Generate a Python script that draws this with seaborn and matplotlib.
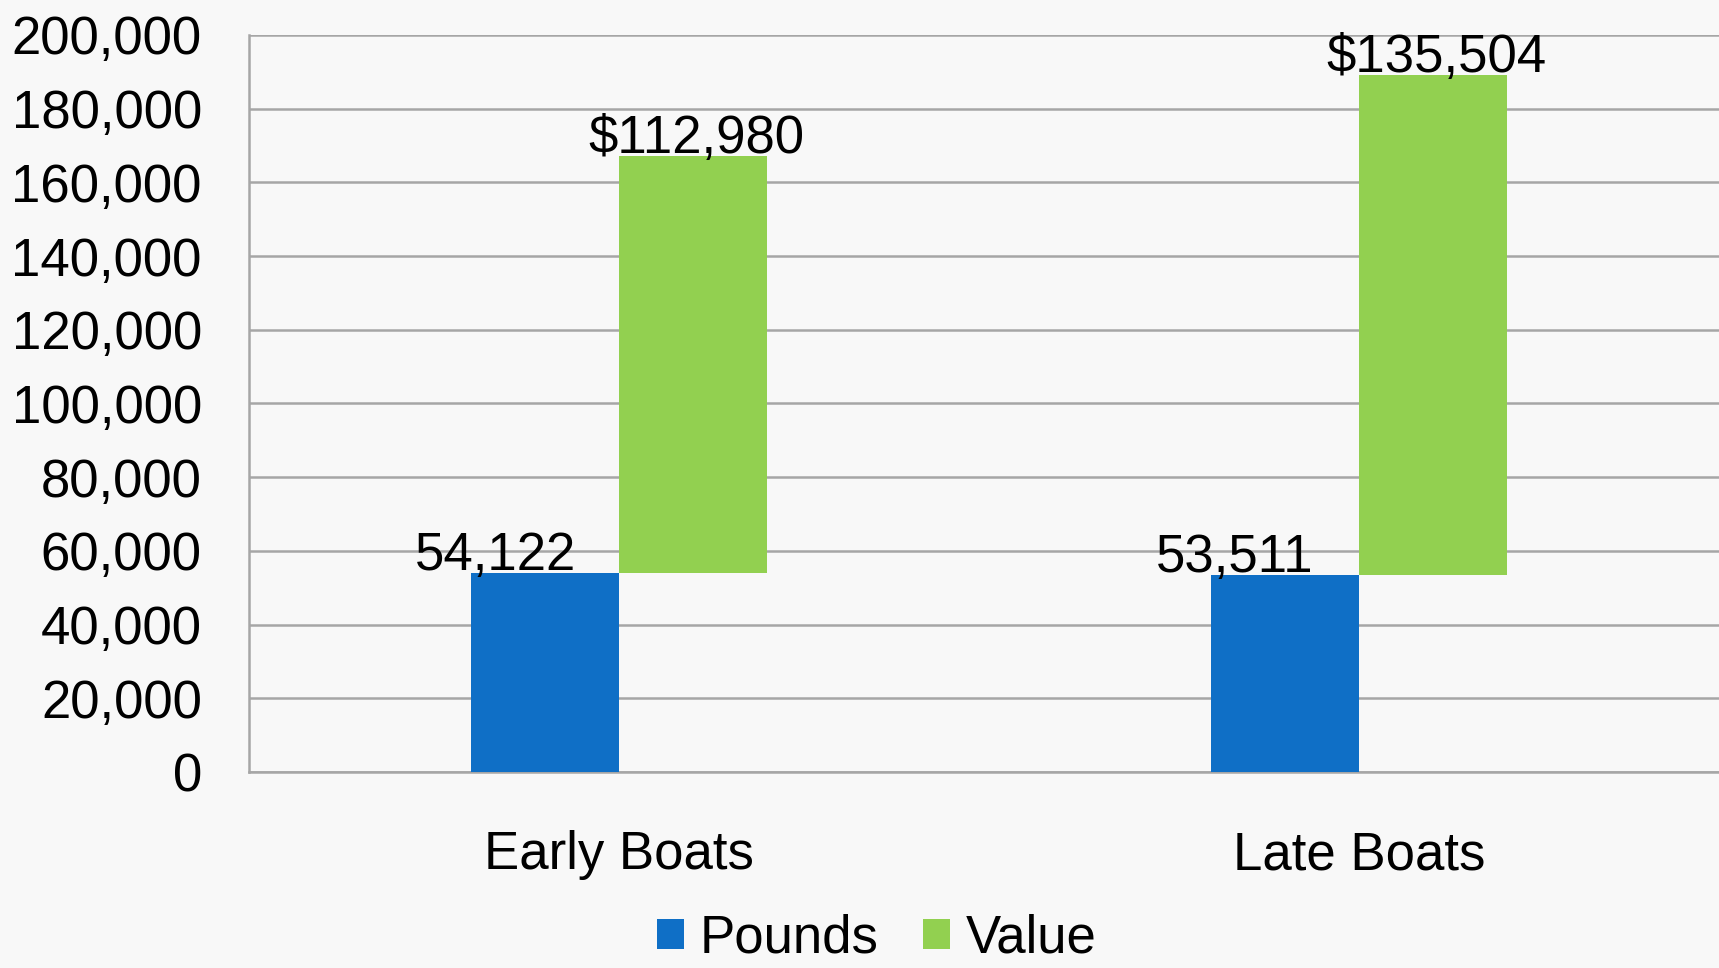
import matplotlib
matplotlib.use("Agg")
import matplotlib.pyplot as plt
import seaborn as sns
import pandas as pd
from matplotlib.patches import Patch
from matplotlib.ticker import FuncFormatter

categories = ["Early Boats", "Late Boats"]
pounds = [54122, 53511]
value = [112980, 135504]
series = ["Pounds", "Value"]
colors = {"Pounds": "#0f6fc6", "Value": "#92d050"}
yticks = [0, 20000, 40000, 60000, 80000, 100000, 120000, 140000, 160000, 180000, 200000]

sns.set_theme(style="white")
plt.rcParams["font.family"] = ["Liberation Sans", "DejaVu Sans"]
plt.rcParams["text.color"] = "black"

FS = 38
bg = "#f8f8f8"
fig = plt.figure(figsize=(17.19, 9.68), dpi=100, facecolor=bg)
ax = fig.add_axes([0.1449, 0.2025, 0.861, 0.7614])
ax.set_facecolor(bg)

df_p = pd.DataFrame({"cat": categories, "amount": pounds, "series": "Pounds"})
sns.barplot(data=df_p, x="cat", y="amount", hue="series", hue_order=series,
            order=categories, palette=colors, width=0.4, dodge=True,
            saturation=1, errorbar=None, ax=ax, legend=False, zorder=3,
            linewidth=0)

# floating Value bars, starting on top of Pounds
for cat, p, v in zip(categories, pounds, value):
    df_v = pd.DataFrame({"cat": [cat], "amount": [v], "series": ["Value"]})
    sns.barplot(data=df_v, x="cat", y="amount", hue="series", hue_order=series,
                order=categories, palette=colors, width=0.4, dodge=True,
                saturation=1, errorbar=None, ax=ax, legend=False, zorder=3,
                bottom=p, linewidth=0)

ax.set_xlim(-0.5, 1.5)
ax.set_ylim(0, 200000)
ax.set_yticks(yticks)
ax.yaxis.set_major_formatter(FuncFormatter(lambda v, p: f"{int(v):,}"))
ax.grid(axis="y", color="#a6a6a6", linewidth=1.8, zorder=0)
ax.set_axisbelow(True)
for s in ["top", "right"]:
    ax.spines[s].set_visible(False)
for s in ["left", "bottom"]:
    ax.spines[s].set_color("#a6a6a6")
    ax.spines[s].set_linewidth(1.8)
ax.tick_params(axis="y", length=0, pad=34, labelsize=FS, labelcolor="black")
ax.tick_params(axis="x", length=0, pad=42, labelsize=FS, labelcolor="black")
ax.set_xlabel("")
ax.set_ylabel("")

# data labels
for i, (p, v) in enumerate(zip(pounds, value)):
    ax.annotate(f"{p:,}", xy=(i - 0.1, p), xytext=(-50, 3), textcoords="offset pixels",
                ha="center", va="baseline", fontsize=FS, color="black", zorder=5)
    ax.annotate(f"${v:,}", xy=(i + 0.1, p + v), xytext=(3, 3), textcoords="offset pixels",
                ha="center", va="baseline", fontsize=FS, color="black", zorder=5)

handles = [Patch(facecolor=colors[s], edgecolor="none", label=s) for s in series]
fig.legend(handles=handles, loc="center", bbox_to_anchor=(0.51, 0.03), ncol=2,
           frameon=False, fontsize=FS, handlelength=0.5, handleheight=0.5,
           handletextpad=0.3, columnspacing=0.85, borderpad=0, labelcolor="black")

fig.savefig("out.png", dpi=100, facecolor=bg)
